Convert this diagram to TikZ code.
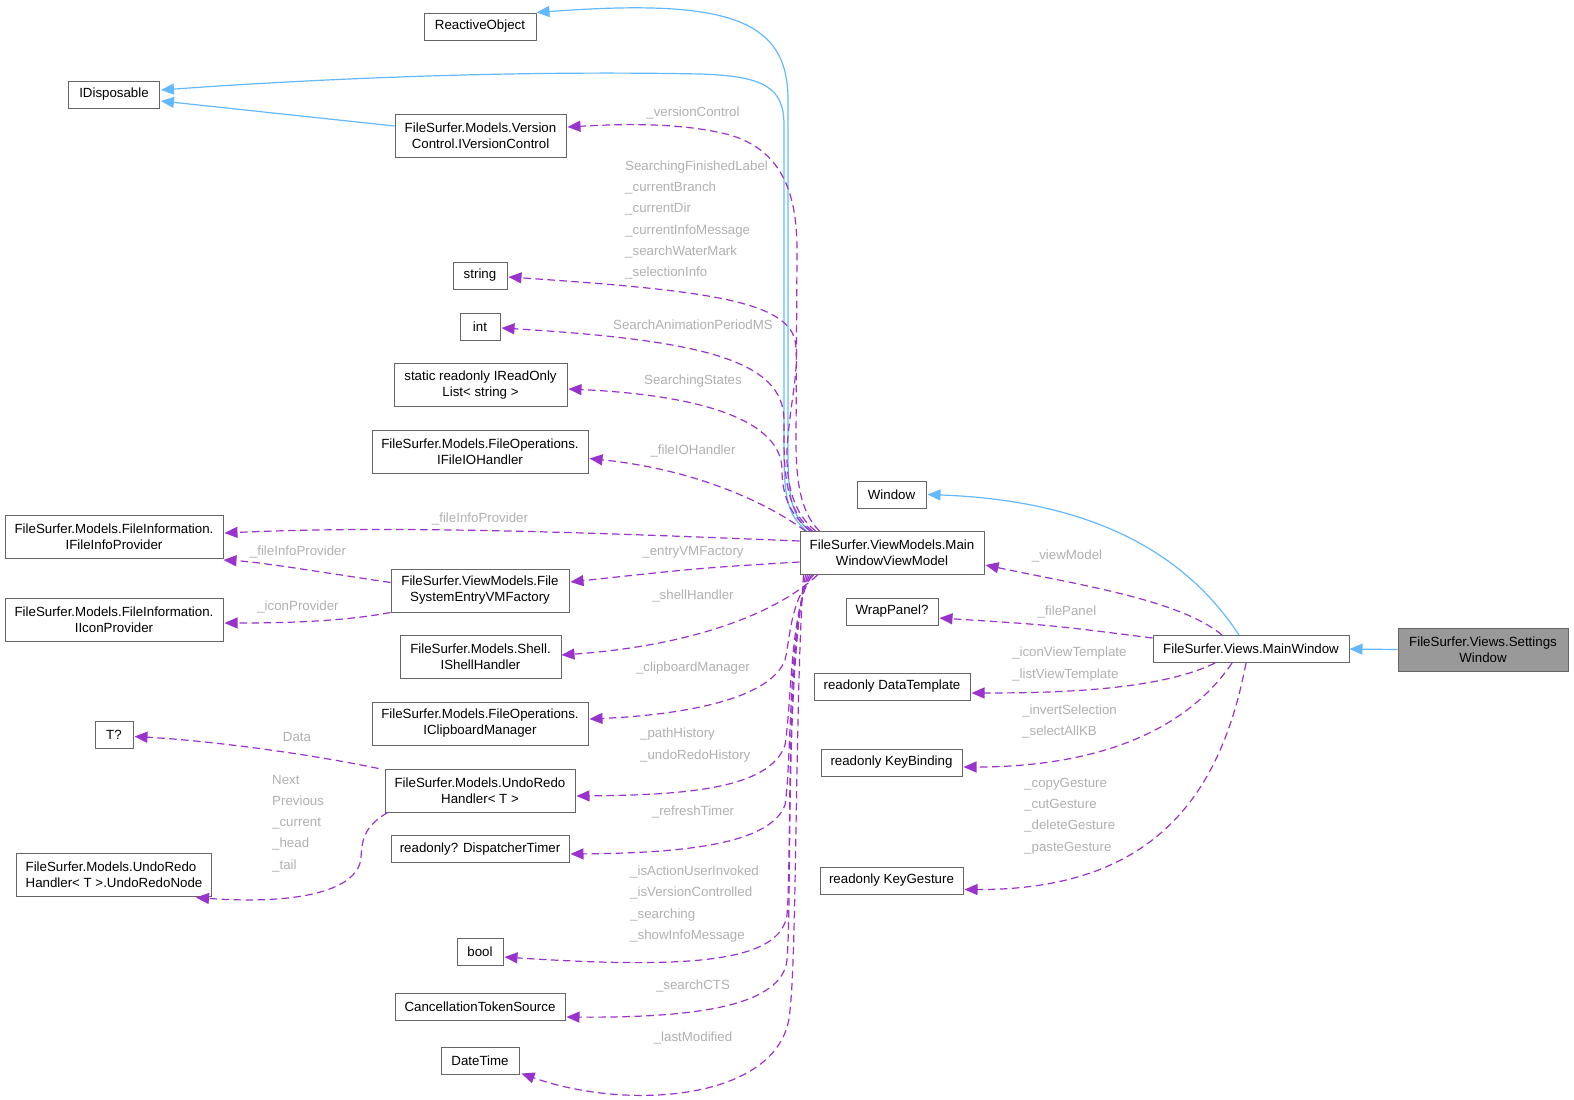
\documentclass[tikz,border=0pt]{standalone}
\usepackage{fontspec}
\setmainfont{Liberation Sans}
\usetikzlibrary{arrows.meta,calc}
\definecolor{inh}{HTML}{63B8FF}
\definecolor{usec}{HTML}{9A32CD}
\definecolor{bord}{HTML}{666666}
\definecolor{lblc}{HTML}{B0B0B0}
\definecolor{rootf}{HTML}{999999}
\begin{document}
\begin{tikzpicture}[x=1pt,y=-1pt,
  box/.style={draw=bord, line width=1pt, fill=white, inner sep=0pt, font=\fontsize{13.3}{16}\selectfont, align=center, minimum height=27pt},
  box2/.style={box, minimum height=43pt},
  lbl/.style={text=lblc, font=\fontsize{13.3}{21.2}\selectfont, inner sep=0pt},
  lbll/.style={lbl, anchor=west, align=left},
  inherit/.style={draw=inh, line width=1.2pt, -{Triangle[length=13pt,width=11pt]}},
  usage/.style={draw=usec, line width=1.2pt, dash pattern=on 7.5pt off 4.5pt, -{Triangle[length=13pt,width=11pt]}},
]
\useasboundingbox (0,0) rectangle (1574,1100);

% nodes
\node[box, minimum width=112pt] (ro) at (480,26.5) {ReactiveObject};
\node[box, minimum width=91pt] (idisp) at (114,94.5) {IDisposable};
\node[box2, minimum width=171pt] (vc) at (480.5,135.5) {FileSurfer.Models.Version\\Control.IVersionControl};
\node[box, minimum width=54pt] (str) at (480,275.5) {string};
\node[box, minimum width=40pt] (int) at (480,326.5) {int};
\node[box2, minimum width=173pt] (rol) at (480.5,385) {static readonly IReadOnly\\List< string >};
\node[box2, minimum width=216pt] (fio) at (480,451.5) {FileSurfer.Models.FileOperations.\\IFileIOHandler};
\node[box2, minimum width=218pt] (fip) at (114,537) {FileSurfer.Models.FileInformation.\\IFileInfoProvider};
\node[box2, minimum width=178pt] (fsf) at (480,590.5) {FileSurfer.ViewModels.File\\SystemEntryVMFactory};
\node[box2, minimum width=218pt] (icp) at (114,619.5) {FileSurfer.Models.FileInformation.\\IIconProvider};
\node[box2, minimum width=161pt] (shell) at (480.5,656.5) {FileSurfer.Models.Shell.\\IShellHandler};
\node[box2, minimum width=216pt] (clip) at (480,723.5) {FileSurfer.Models.FileOperations.\\IClipboardManager};
\node[box, minimum width=38pt] (tq) at (114,734.5) {T?};
\node[box2, minimum width=190pt] (urh) at (480,790.5) {FileSurfer.Models.UndoRedo\\Handler< T >};
\node[box, minimum width=178pt] (dt) at (480,849) {readonly? DispatcherTimer};
\node[box2, minimum width=195pt, align=left] (urn) at (114,874.5) {FileSurfer.Models.UndoRedo\\Handler< T >.UndoRedoNode};
\node[box, minimum width=46pt] (bool) at (480,951.5) {bool};
\node[box, minimum width=170pt] (cts) at (480,1006.5) {CancellationTokenSource};
\node[box, minimum width=78pt] (dtm) at (480,1060.5) {DateTime};
\node[box2, minimum width=184pt] (mwvm) at (892,553) {FileSurfer.ViewModels.Main\\WindowViewModel};
\node[box, minimum width=69pt] (win) at (891.5,494.5) {Window};
\node[box, minimum width=92pt] (wrap) at (892,611.5) {WrapPanel?};
\node[box, minimum width=156pt] (dtpl) at (892,686.5) {readonly DataTemplate};
\node[box, minimum width=141pt] (kb) at (891.5,762.5) {readonly KeyBinding};
\node[box, minimum width=143pt] (kg) at (891.5,880.5) {readonly KeyGesture};
\node[box, minimum width=196pt] (mw) at (1251,649) {FileSurfer.Views.MainWindow};
\node[box2, minimum width=170pt, fill=rootf] (sw) at (1483,649.5) {FileSurfer.Views.Settings\\Window};

% inheritance
\draw[inherit] ($(mwvm.north west)+(10,0)$) .. controls (792,515) and (788,500) .. (788,450) -- (788,100) .. controls (788,20) and (730,-2) .. (ro.north east);
\draw[inherit] ($(mwvm.north west)+(7,0)$) .. controls (788,515) and (784,500) .. (784,450) -- (784,125) .. controls (784,88) and (765,76) .. (700,74) .. controls (500,70) and (300,80) .. ($(idisp.east)+(1,-4.5)$);
\draw[inherit] ($(vc.west)+(0,-9.5)$) -- ($(idisp.east)+(1,6.5)$);
\draw[inherit] ($(mw.north)+(-12,0)$) .. controls (1180,545) and (1080,500) .. ($(win.east)+(1,0)$);
\draw[inherit] (sw.west) -- (mw.east);

% usage from MainWindowViewModel
\draw[usage] ($(mwvm.north west)+(20,0)$) .. controls (800,512) and (796,480) .. (796,440) -- (797,250) .. controls (797,190) and (780,150) .. (730,135) .. controls (680,122) and (620,124) .. ($(vc.east)+(1,-8.5)$);
\draw[usage] ($(mwvm.north west)+(16,0)$) .. controls (796,515) and (786,490) .. (787,450) .. controls (790,400) and (800,370) .. (795,340) .. controls (785,300) and (700,290) .. ($(str.east)+(1,1.5)$);
\draw[usage] ($(mwvm.north west)+(13,0)$) .. controls (792,515) and (784,490) .. (784,440) -- (784,420) .. controls (784,360) and (700,340) .. ($(int.east)+(1,1.5)$);
\draw[usage] ($(mwvm.north west)+(11,0)$) .. controls (790,515) and (782,495) .. (782,470) .. controls (782,420) and (700,395) .. ($(rol.east)+(1,4)$);
\draw[usage] ($(mwvm.north west)+(6,0)$) .. controls (770,505) and (700,470) .. ($(fio.east)+(1,7)$);
\draw[usage] ($(mwvm.west)+(0,-12)$) .. controls (600,533) and (400,525) .. ($(fip.east)+(1,-4)$);
\draw[usage] ($(mwvm.west)+(0,9)$) .. controls (700,568) .. ($(fsf.east)+(1,-8.5)$);
\draw[usage] ($(mwvm.south west)+(18,0)$) .. controls (780,610) and (700,645) .. ($(shell.east)+(0,-1.5)$);
\draw[usage] ($(mwvm.south west)+(14,0)$) .. controls (790,600) and (790,640) .. (785,660) .. controls (770,700) and (680,715) .. ($(clip.east)+(1,-4.5)$);
\draw[usage] ($(mwvm.south west)+(12,0)$) .. controls (790,610) and (792,700) .. (785,745) .. controls (770,790) and (680,795) .. ($(urh.east)+(1,5.5)$);
\draw[usage] ($(mwvm.south west)+(10,0)$) .. controls (788,620) and (792,760) .. (785,805) .. controls (770,845) and (680,853) .. ($(dt.east)+(1,5)$);
\draw[usage] ($(mwvm.south west)+(8,0)$) .. controls (785,650) and (792,850) .. (787,915) .. controls (780,960) and (700,970) .. ($(bool.east)+(1,5.5)$);
\draw[usage] ($(mwvm.south west)+(6,0)$) .. controls (785,680) and (792,900) .. (787,960) .. controls (782,1005) and (700,1018) .. ($(cts.east)+(1,10.5)$);
\draw[usage] ($(mwvm.south west)+(4,0)$) .. controls (795,700) and (797,950) .. (790,1010) .. controls (785,1100) and (630,1112) .. ($(dtm.south east)+(2,-1)$);

% usage from FileSystemEntryVMFactory
\draw[usage] ($(fsf.west)+(0,-8)$) .. controls (320,572) and (260,562) .. ($(fip.south east)+(0,1)$);
\draw[usage] (fsf.south west) .. controls (340,622) and (280,623) .. ($(icp.east)+(1,3.5)$);

% usage from UndoRedoHandler
\draw[usage] ($(urh.north west)+(-6,0)$) .. controls (300,752) and (200,740) .. ($(tq.east)+(1,2)$);
\draw[usage] ($(urh.south west)+(3,0)$) .. controls (362,828) and (362,842) .. (361,858) .. controls (358,890) and (300,905) .. ($(urn.south east)+(-16,1)$);

% usage from MainWindow
\draw[usage] ($(mw.north)+(-29,0)$) .. controls (1180,600) and (1080,585) .. ($(mwvm.east)+(1,12)$);
\draw[usage] ($(mw.west)+(0,-11)$) .. controls (1050,625) .. ($(wrap.east)+(1,6.5)$);
\draw[usage] ($(mw.south)+(-36,0)$) .. controls (1160,690) and (1060,693) .. ($(dtpl.east)+(1,6.5)$);
\draw[usage] ($(mw.south)+(-19,0)$) .. controls (1180,740) and (1080,767) .. ($(kb.east)+(1,4.5)$);
\draw[usage] ($(mw.south)+(-5,0)$) .. controls (1220,800) and (1150,890) .. ($(kg.east)+(1,9)$);

% labels
\node[lbl] (l1) at (693,113) {\_versionControl};
\node[lbll] (l2) at (625,220) {SearchingFinishedLabel\\\_currentBranch\\\_currentDir\\\_currentInfoMessage\\\_searchWaterMark\\\_selectionInfo};
\node[lbl] (l3) at (693,325) {SearchAnimationPeriodMS};
\node[lbl] (l4) at (693,381) {SearchingStates};
\node[lbl] (l5) at (693,451) {\_fileIOHandler};
\node[lbl] (l6) at (480,519) {\_fileInfoProvider};
\node[lbl] (l7) at (693,552) {\_entryVMFactory};
\node[lbl] (l8) at (693,596) {\_shellHandler};
\node[lbl] (l9) at (693,668) {\_clipboardManager};
\node[lbll] (l10) at (640,745) {\_pathHistory\\\_undoRedoHistory};
\node[lbl] (l11) at (693,812) {\_refreshTimer};
\node[lbll] (l12) at (630,904) {\_isActionUserInvoked\\\_isVersionControlled\\\_searching\\\_showInfoMessage};
\node[lbl] (l13) at (693,986) {\_searchCTS};
\node[lbl] (l14) at (693,1038) {\_lastModified};
\node[lbl] (l15) at (298,552) {\_fileInfoProvider};
\node[lbl] (l16) at (298,607) {\_iconProvider};
\node[lbl] (l17) at (297,737) {Data};
\node[lbll] (l18) at (272,823.5) {Next\\Previous\\\_current\\\_head\\\_tail};
\node[lbl] (l19) at (1067,556) {\_viewModel};
\node[lbl] (l20) at (1067,612) {\_filePanel};
\node[lbll] (l21) at (1012,664) {\_iconViewTemplate\\\_listViewTemplate};
\node[lbll] (l22) at (1022,721.5) {\_invertSelection\\\_selectAllKB};
\node[lbll] (l23) at (1024,816) {\_copyGesture\\\_cutGesture\\\_deleteGesture\\\_pasteGesture};
\end{tikzpicture}
\end{document}
